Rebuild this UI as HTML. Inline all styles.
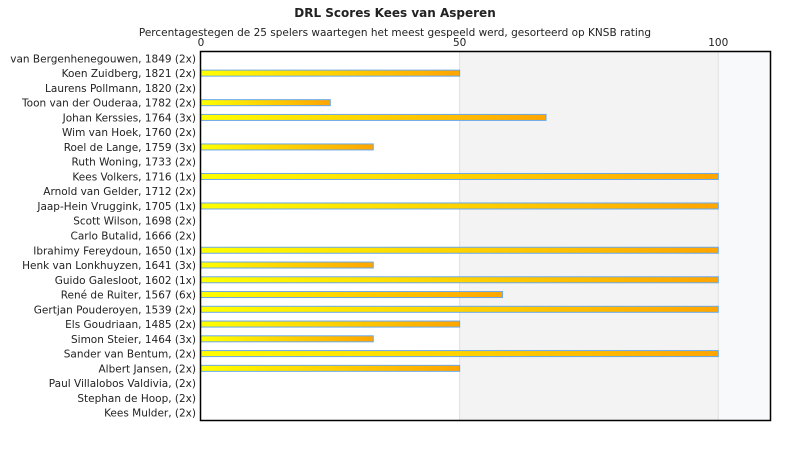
<!DOCTYPE html>
<html><head><meta charset="utf-8"><style>
html,body{margin:0;padding:0;background:#fff;width:790px;height:450px;overflow:hidden}
svg text{font-family:"DejaVu Sans","Liberation Sans",sans-serif;fill:#222}
</style></head><body>
<svg id="chart" width="790" height="450" xmlns="http://www.w3.org/2000/svg">
<defs><linearGradient id="g" x1="0" x2="1" y1="0" y2="0"><stop offset="0" stop-color="#ffff00"/><stop offset="1" stop-color="#ffa500"/></linearGradient></defs>
<text x="395" y="17" text-anchor="middle" font-size="12" font-weight="bold">DRL Scores Kees van Asperen</text>
<text x="395" y="36" text-anchor="middle" font-size="10.5">Percentagestegen de 25 spelers waartegen het meest gespeeld werd, gesorteerd op KNSB rating</text>
<g id="bg"></g><g id="ticks"></g><g id="labels"></g><g id="bars"></g>
<rect x="200.5" y="51.5" width="570" height="369" fill="none" stroke="#000" stroke-width="1.5"/>
</svg>
<script>
const categories=["van Bergenhenegouwen, 1849 (2x)","Koen Zuidberg, 1821 (2x)","Laurens Pollmann, 1820 (2x)","Toon van der Ouderaa, 1782 (2x)","Johan Kerssies, 1764 (3x)","Wim van Hoek, 1760 (2x)","Roel de Lange, 1759 (3x)","Ruth Woning, 1733 (2x)","Kees Volkers, 1716 (1x)","Arnold van Gelder, 1712 (2x)","Jaap-Hein Vruggink, 1705 (1x)","Scott Wilson, 1698 (2x)","Carlo Butalid, 1666 (2x)","Ibrahimy Fereydoun, 1650 (1x)","Henk van Lonkhuyzen, 1641 (3x)","Guido Galesloot, 1602 (1x)","René de Ruiter, 1567 (6x)","Gertjan Pouderoyen, 1539 (2x)","Els Goudriaan, 1485 (2x)","Simon Steier, 1464 (3x)","Sander van Bentum,  (2x)","Albert Jansen,  (2x)","Paul Villalobos Valdivia,  (2x)","Stephan de Hoop,  (2x)","Kees Mulder,  (2x)"];
const values=[0,50,0,25,66.7,0,33.3,0,100,0,100,0,0,100,33.3,100,58.3,100,50,33.3,100,50,0,0,0];
const tickValues=[0,50,100];
const tickLabels=["0","50","100"];
const NS="http://www.w3.org/2000/svg";
const x0=201,xMax=110,plotR=770,plotTop=51,plotBottom=420;
const xs=v=>x0+v*(plotR-x0)/xMax;
const rowH=(plotBottom-plotTop)/categories.length;
const ys=i=>plotTop+rowH*(i+0.5);
function mk(t,a,p){const e=document.createElementNS(NS,t);for(const k in a)e.setAttribute(k,a[k]);p.appendChild(e);return e;}
const bgG=document.getElementById('bg');
let r1=mk('rect',{x:xs(50),y:plotTop,width:xs(100)-xs(50),height:plotBottom-plotTop,fill:'#f3f3f3'},bgG);


let r2=mk('rect',{x:xs(100),y:plotTop,width:plotR-xs(100),height:plotBottom-plotTop,fill:'#f7f9fb'},bgG);


const tg=document.getElementById('ticks');
tickValues.forEach((v,i)=>{
  if(v>0){let l=mk('line',{x1:xs(v),x2:xs(v),y1:plotTop,y2:plotBottom,stroke:'#e0e0e0'},tg);
  
  }
  let t=mk('text',{x:xs(v),y:46,'text-anchor':'middle','font-size':'10.5'},tg);
  
  
  t.textContent=tickLabels[i];
});
const lg=document.getElementById('labels'),barG=document.getElementById('bars');
categories.forEach((c,i)=>{
  let t=mk('text',{x:196,y:ys(i)+4,'text-anchor':'end','font-size':'10.5'},lg);
  
  
  t.textContent=c;
  if(values[i]>0){
    let b=mk('rect',{x:xs(0),y:ys(i)-3,width:xs(values[i])-xs(0),height:6,fill:'url(#g)',stroke:'#6aa8e8','stroke-width':1},barG);
    
    
  }
});
</script>
</body></html>
